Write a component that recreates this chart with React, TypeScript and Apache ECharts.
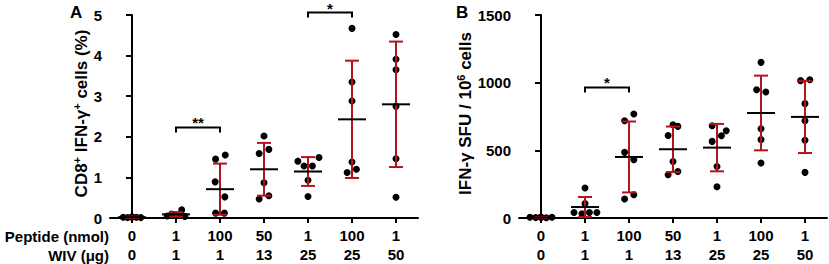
import React, { useEffect, useRef } from "react";
import * as echarts from "echarts";

// ---- categories / tick labels ----
const peptideLabels = ["0", "1", "100", "50", "1", "100", "1"];
const wivLabels = ["0", "1", "1", "13", "25", "25", "50"];
const yTicksA = [0, 1, 2, 3, 4, 5];
const yTicksB = [0, 500, 1000, 1500];

// ---- Panel A: CD8+ IFN-γ+ cells (%) ----
const valuesA = [
  [0.02, 0.01, 0.03, 0.02, 0.01, 0.02],
  [0.2, 0.1, 0.08, 0.06, 0.05, 0.04],
  [1.45, 1.55, 0.89, 0.52, 0.12, 0.12],
  [2.02, 1.59, 1.69, 0.87, 0.47, 0.55],
  [1.4, 1.49, 1.28, 1.28, 0.93, 0.53],
  [4.67, 3.35, 2.88, 1.38, 1.12, 1.2],
  [4.52, 3.91, 3.65, 2.75, 1.46, 0.51],
];
const jitterA = [
  [-0.2, -0.1, 0, 0.1, 0.2, 0],
  [0.13, -0.1, 0, 0.1, -0.2, 0.2],
  [-0.1, 0.12, -0.11, 0.11, -0.1, 0.1],
  [0, -0.11, 0.11, 0, -0.11, 0.11],
  [-0.23, 0.25, -0.09, 0.1, 0, 0],
  [0, 0, 0, 0, -0.11, 0.1],
  [0, 0, 0, 0, 0, 0],
];
const meanA = [0.02, 0.09, 0.71, 1.2, 1.145, 2.43, 2.8];
const sdA = [0.015, 0.055, 0.63, 0.65, 0.355, 1.445, 1.545];
const bracketsA = [
  [1, 2, 2.23],
  [4, 5, 5.06],
];
const bracketLabelsA = ["**", "*"];

// ---- Panel B: IFN-γ SFU / 10^6 cells ----
const valuesB = [
  [5, 3, 8, 2, 6, 4],
  [222, 106, 41, 32, 41, 41],
  [719, 768, 485, 431, 140, 172],
  [689, 677, 610, 418, 344, 320],
  [682, 645, 608, 566, 381, 231],
  [1150, 948, 931, 660, 579, 406],
  [1015, 1022, 845, 718, 574, 337],
];
const jitterB = [
  [-0.25, -0.12, 0, 0.12, 0.25, 0],
  [0, 0, -0.25, -0.07, 0.1, 0.27],
  [-0.1, 0.11, -0.1, 0.11, -0.1, 0.11],
  [0, 0.11, -0.11, 0, 0.11, -0.11],
  [-0.11, 0.21, 0.1, -0.11, 0, 0],
  [0, -0.1, 0.11, 0, 0, 0],
  [-0.1, 0.11, 0, 0, 0, 0],
];
const meanB = [4, 81, 451, 508, 520, 776, 747];
const sdB = [3, 74, 262, 168, 175, 276, 267];
const bracketsB = [[1, 2, 965]];
const bracketLabelsB = ["*"];

const FONT = "'Liberation Sans', Arial, Helvetica, sans-serif";
const RED = "#b3141c";

function buildPoints(values: number[][], jitter: number[][]) {
  const out: number[][] = [];
  values.forEach((grp, g) =>
    grp.forEach((v, k) => out.push([g + jitter[g][k], v]))
  );
  return out;
}

function errorRender(params: any, api: any) {
  const x = api.value(0);
  const m = api.value(1);
  const s = api.value(2);
  const c = api.coord([x, m]);
  const t = api.coord([x, m + s]);
  const b = api.coord([x, m - s]);
  const capW = 7;
  const meanW = 14;
  const red = { stroke: RED, lineWidth: 2 };
  return {
    type: "group",
    children: [
      { type: "line", shape: { x1: c[0], y1: t[1], x2: c[0], y2: b[1] }, style: red },
      { type: "line", shape: { x1: c[0] - capW, y1: t[1], x2: c[0] + capW, y2: t[1] }, style: red },
      { type: "line", shape: { x1: c[0] - capW, y1: b[1], x2: c[0] + capW, y2: b[1] }, style: red },
      {
        type: "line",
        shape: { x1: c[0] - meanW, y1: c[1], x2: c[0] + meanW, y2: c[1] },
        style: { stroke: "#000", lineWidth: 2 },
      },
    ],
  };
}

function bracketRender(labels: string[]) {
  return (params: any, api: any) => {
    const x1 = api.value(0);
    const x2 = api.value(1);
    const y = api.value(2);
    const p1 = api.coord([x1, y]);
    const p2 = api.coord([x2, y]);
    return {
      type: "group",
      children: [
        {
          type: "polyline",
          shape: {
            points: [
              [p1[0], p1[1] + 5],
              [p1[0], p1[1]],
              [p2[0], p2[1]],
              [p2[0], p2[1] + 5],
            ],
          },
          style: { stroke: "#000", lineWidth: 2, fill: "none" },
        },
        {
          type: "text",
          style: {
            text: labels[params.dataIndex],
            x: (p1[0] + p2[0]) / 2,
            y: p1[1] + 3,
            align: "center",
            verticalAlign: "bottom",
            fill: "#000",
            font: `bold 15px ${FONT}`,
          },
        },
      ],
    };
  };
}

const catData = peptideLabels.map((p, i) => `${p}\n${wivLabels[i]}`);

function catAxis(gridIndex: number) {
  return {
    type: "category",
    gridIndex,
    data: catData,
    boundaryGap: true,
    axisLine: { show: true, lineStyle: { color: "#000", width: 2 } },
    axisTick: { show: true, alignWithLabel: true, length: 5, lineStyle: { color: "#000", width: 2 } },
    axisLabel: {
      interval: 0,
      color: "#000",
      fontSize: 15,
      fontWeight: "bold",
      fontFamily: FONT,
      lineHeight: 19,
      margin: 8,
    },
    splitLine: { show: false },
  };
}

function valXAxis(gridIndex: number) {
  return { type: "value", gridIndex, min: -0.5, max: 6.5, show: false, splitLine: { show: false } };
}

function yAxis(gridIndex: number, ticks: number[], name: string, nameGap: number) {
  return {
    type: "value",
    gridIndex,
    min: ticks[0],
    max: ticks[ticks.length - 1],
    interval: ticks[1] - ticks[0],
    axisLine: { show: true, lineStyle: { color: "#000", width: 2 } },
    axisTick: { show: true, length: 6, lineStyle: { color: "#000", width: 2 } },
    axisLabel: {
      color: "#000",
      fontSize: 15,
      fontWeight: "bold",
      fontFamily: FONT,
      margin: 8,
      formatter: (v: number) => String(v),
    },
    splitLine: { show: false },
    name,
    nameLocation: "middle",
    nameGap,
    nameTextStyle: {
      color: "#000",
      fontFamily: FONT,
      fontWeight: "bold",
      fontSize: 17,
      padding: [0, 0, 0, 6],
      rich: {
        a: { fontSize: 17, fontWeight: "bold", fontFamily: FONT, color: "#000", lineHeight: 20 },
        s: { fontSize: 11, fontWeight: "bold", fontFamily: FONT, color: "#000", lineHeight: 11, verticalAlign: "top" },
      },
    },
  };
}

export default function App() {
  const ref = useRef<HTMLDivElement>(null);
  useEffect(() => {
    document.body.style.margin = "0";
    if (!ref.current) return;
    const chart = echarts.init(ref.current, null, { renderer: "svg" });
    const option: any = {
      animation: false,
      backgroundColor: "#fff",
      textStyle: { fontFamily: FONT },
      grid: [
        { left: 110, top: 15, width: 308, height: 204 },
        { left: 519, top: 15, width: 308, height: 204 },
      ],
      xAxis: [catAxis(0), valXAxis(0), catAxis(1), valXAxis(1)],
      yAxis: [
        yAxis(0, yTicksA, "{a|CD8}{s|+}{a| IFN-γ}{s|+}{a| cells (%)}", 16),
        yAxis(1, yTicksB, "{a|IFN-γ SFU / 10}{s|6}{a| cells}", 41),
      ],
      graphic: [
        { type: "text", left: 70, top: 4, style: { text: "A", font: `bold 17px ${FONT}`, fill: "#000" } },
        { type: "text", left: 456, top: 4, style: { text: "B", font: `bold 17px ${FONT}`, fill: "#000" } },
        {
          type: "text",
          x: 109,
          y: 236.5,
          style: { text: "Peptide (nmol)", align: "right", verticalAlign: "middle", font: `bold 15px ${FONT}`, fill: "#000" },
        },
        {
          type: "text",
          x: 109,
          y: 255.5,
          style: { text: "WIV (μg)", align: "right", verticalAlign: "middle", font: `bold 15px ${FONT}`, fill: "#000" },
        },
      ],
      series: [
        {
          type: "scatter",
          xAxisIndex: 1,
          yAxisIndex: 0,
          symbolSize: 7,
          itemStyle: { color: "#000", opacity: 1 },
          data: buildPoints(valuesA, jitterA),
          z: 2,
        },
        {
          type: "custom",
          xAxisIndex: 1,
          yAxisIndex: 0,
          renderItem: errorRender,
          encode: { x: 0, y: 1 },
          data: meanA.map((m, i) => [i, m, sdA[i]]),
          z: 3,
        },
        {
          type: "custom",
          xAxisIndex: 1,
          yAxisIndex: 0,
          renderItem: bracketRender(bracketLabelsA),
          encode: { x: [0, 1], y: 2 },
          data: bracketsA,
          clip: false,
          z: 3,
        },
        {
          type: "scatter",
          xAxisIndex: 3,
          yAxisIndex: 1,
          symbolSize: 7,
          itemStyle: { color: "#000", opacity: 1 },
          data: buildPoints(valuesB, jitterB),
          z: 2,
        },
        {
          type: "custom",
          xAxisIndex: 3,
          yAxisIndex: 1,
          renderItem: errorRender,
          encode: { x: 0, y: 1 },
          data: meanB.map((m, i) => [i, m, sdB[i]]),
          z: 3,
        },
        {
          type: "custom",
          xAxisIndex: 3,
          yAxisIndex: 1,
          renderItem: bracketRender(bracketLabelsB),
          encode: { x: [0, 1], y: 2 },
          data: bracketsB,
          clip: false,
          z: 3,
        },
      ],
    };
    chart.setOption(option);
    return () => chart.dispose();
  }, []);
  return <div ref={ref} style={{ width: 829, height: 264 }} />;
}
